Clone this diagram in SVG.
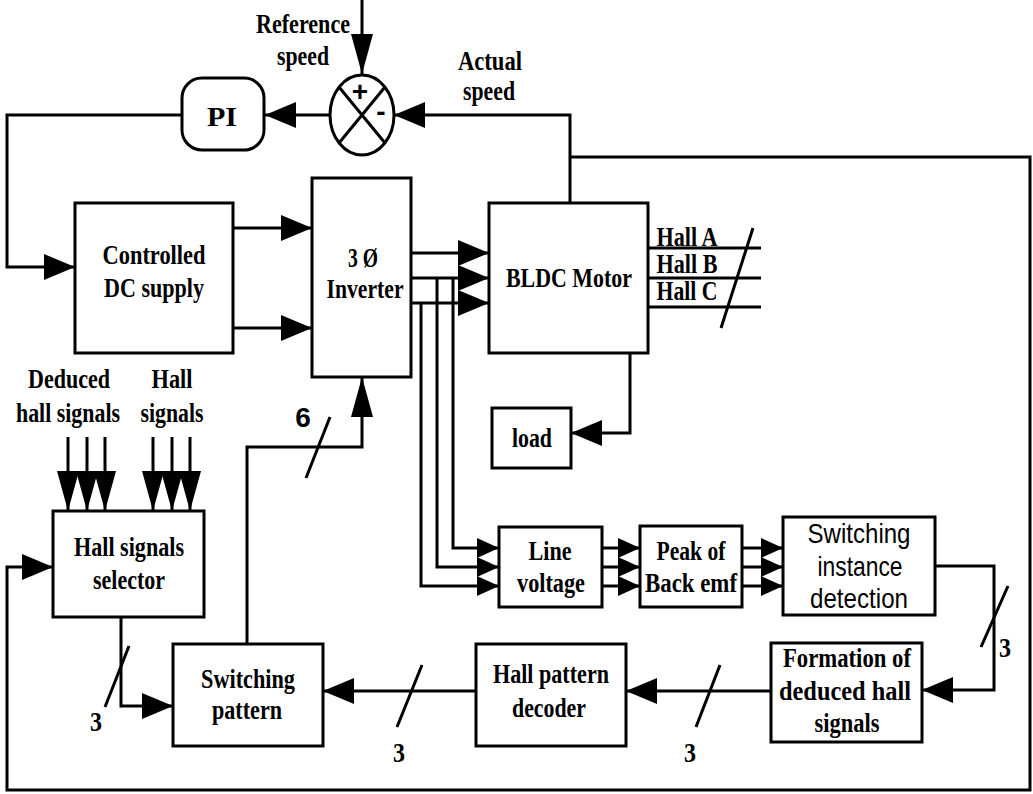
<svg xmlns="http://www.w3.org/2000/svg" width="1033" height="794" viewBox="0 0 1033 794">
<style>
.b{fill:#fff;stroke:#000;stroke-width:3}
.w{fill:none;stroke:#000;stroke-width:3}
.t{font-family:"Liberation Serif",serif;font-weight:bold;font-size:28px;text-anchor:middle;fill:#000}
.s{font-family:"Liberation Sans",sans-serif;font-size:28px;text-anchor:middle;fill:#000}
</style>
<defs>
<marker id="ah" markerUnits="userSpaceOnUse" markerWidth="31" markerHeight="26" refX="31" refY="13" orient="auto"><path d="M0,0 L31,13 L0,26 Z"/></marker>
<marker id="av" markerUnits="userSpaceOnUse" markerWidth="40" markerHeight="22" refX="40" refY="11" orient="auto"><path d="M0,0 L40,11 L0,22 Z"/></marker>
<marker id="as" markerUnits="userSpaceOnUse" markerWidth="22" markerHeight="20" refX="22" refY="10" orient="auto"><path d="M0,0 L22,10 L0,20 Z"/></marker>
</defs>
<g id="connectors">
<path class="w" d="M362,0 V74" marker-end="url(#av)"/>
<path class="w" d="M330,115 H265" marker-end="url(#ah)"/>
<path class="w" d="M570,203 V115 H394" marker-end="url(#ah)"/>
<path class="w" d="M570,157 H1030 V790 H7 V567 H53" marker-end="url(#ah)"/>
<path class="w" d="M182,115 H7 V267 H75" marker-end="url(#ah)"/>
<path class="w" d="M233,228 H312" marker-end="url(#ah)"/>
<path class="w" d="M233,328 H312" marker-end="url(#ah)"/>
<path class="w" d="M411,253 H489" marker-end="url(#ah)"/>
<path class="w" d="M411,278 H489" marker-end="url(#ah)"/>
<path class="w" d="M411,303 H489" marker-end="url(#ah)"/>
<path class="w" d="M453,278 V548 H499" marker-end="url(#as)"/>
<path class="w" d="M437,278 V567 H499" marker-end="url(#as)"/>
<path class="w" d="M421,303 V586 H499" marker-end="url(#as)"/>
<path class="w" d="M602,548 H640" marker-end="url(#as)"/>
<path class="w" d="M602,567 H640" marker-end="url(#as)"/>
<path class="w" d="M602,586 H640" marker-end="url(#as)"/>
<path class="w" d="M742,548 H783" marker-end="url(#as)"/>
<path class="w" d="M742,567 H783" marker-end="url(#as)"/>
<path class="w" d="M742,586 H783" marker-end="url(#as)"/>
<path class="w" d="M648,248 H761 M648,278 H761 M648,307 H761"/>
<path class="w" d="M630,353 V433 H571" marker-end="url(#ah)"/>
<path class="w" d="M935,566 H994 V690 H922" marker-end="url(#ah)"/>
<path class="w" d="M771,691 H626" marker-end="url(#ah)"/>
<path class="w" d="M476,691 H323" marker-end="url(#ah)"/>
<path class="w" d="M121,617 V706 H173" marker-end="url(#ah)"/>
<path class="w" d="M247,644 V447 H362 V377" marker-end="url(#av)"/>
<path class="w" d="M68,437 V511" marker-end="url(#av)"/>
<path class="w" d="M87,437 V511" marker-end="url(#av)"/>
<path class="w" d="M105,437 V511" marker-end="url(#av)"/>
<path class="w" d="M153,437 V511" marker-end="url(#av)"/>
<path class="w" d="M172,437 V511" marker-end="url(#av)"/>
<path class="w" d="M190,437 V511" marker-end="url(#av)"/>
<path class="w" d="M753,228 L721,328 M330,417 L306,478 M129,646 L105,707 M422,665 L397,727 M720,665 L696,727 M1008,586 L981,647"/>
<text class="t" x="303" y="33" font-size="27" textLength="94" lengthAdjust="spacingAndGlyphs">Reference</text>
<text class="t" x="303" y="65" font-size="27" textLength="52" lengthAdjust="spacingAndGlyphs">speed</text>
<text class="t" x="490" y="70" font-size="27" textLength="64" lengthAdjust="spacingAndGlyphs">Actual</text>
<text class="t" x="489" y="100" font-size="27" textLength="52" lengthAdjust="spacingAndGlyphs">speed</text>
<text class="t" x="687" y="246" font-size="22" textLength="61" lengthAdjust="spacingAndGlyphs">Hall A</text>
<text class="t" x="687" y="273" font-size="22" textLength="61" lengthAdjust="spacingAndGlyphs">Hall B</text>
<text class="t" x="687" y="300" font-size="22" textLength="61" lengthAdjust="spacingAndGlyphs">Hall C</text>
<text class="t" x="69" y="388" font-size="24" textLength="82" lengthAdjust="spacingAndGlyphs">Deduced</text>
<text class="t" x="68" y="422" font-size="24" textLength="104" lengthAdjust="spacingAndGlyphs">hall signals</text>
<text class="t" x="172" y="388" font-size="24" textLength="41" lengthAdjust="spacingAndGlyphs">Hall</text>
<text class="t" x="172" y="422" font-size="24" textLength="63" lengthAdjust="spacingAndGlyphs">signals</text>
<text class="s" x="303" y="427" font-size="21" font-weight="bold">6</text>
<text class="t" x="96" y="731" font-size="28" textLength="12" lengthAdjust="spacingAndGlyphs">3</text>
<text class="t" x="399" y="762" font-size="28" textLength="12" lengthAdjust="spacingAndGlyphs">3</text>
<text class="t" x="690" y="762" font-size="28" textLength="12" lengthAdjust="spacingAndGlyphs">3</text>
<text class="t" x="1005" y="657" font-size="28" textLength="12" lengthAdjust="spacingAndGlyphs">3</text>
</g>
<g id="sum">
<ellipse class="b" cx="362" cy="115" rx="32" ry="40"/>
<path class="w" d="M339,87 L385,143 M385,87 L339,143"/>
<text class="s" x="360" y="101" font-size="26" font-weight="bold">+</text>
<text class="s" x="381" y="121" font-size="26" font-weight="bold">-</text>
</g>
<g id="pi">
<rect class="b" x="182" y="78" width="82" height="72" rx="20" ry="20"/>
<text class="t" x="222" y="126" font-size="44" textLength="30" lengthAdjust="spacingAndGlyphs">PI</text>
</g>
<g id="dc-supply">
<rect class="b" x="75" y="203" width="158" height="150"/>
<text class="t" x="154" y="264" font-size="30" textLength="103" lengthAdjust="spacingAndGlyphs">Controlled</text>
<text class="t" x="154" y="297" font-size="30" textLength="100" lengthAdjust="spacingAndGlyphs">DC supply</text>
</g>
<g id="inverter">
<rect class="b" x="312" y="178" width="99" height="199"/>
<text class="t" x="363" y="267" font-size="29" textLength="30" lengthAdjust="spacingAndGlyphs">3 Ø</text>
<text class="t" x="365" y="298" font-size="29" textLength="77" lengthAdjust="spacingAndGlyphs">Inverter</text>
</g>
<g id="motor">
<rect class="b" x="489" y="203" width="159" height="150"/>
<text class="t" x="569" y="287" font-size="30" textLength="126" lengthAdjust="spacingAndGlyphs">BLDC Motor</text>
</g>
<g id="load">
<rect class="b" x="492" y="408" width="79" height="60"/>
<text class="t" x="532" y="447" font-size="29" textLength="40" lengthAdjust="spacingAndGlyphs">load</text>
</g>
<g id="selector">
<rect class="b" x="53" y="511" width="151" height="106"/>
<text class="t" x="129" y="556" textLength="110" lengthAdjust="spacingAndGlyphs">Hall signals</text>
<text class="t" x="129" y="589" textLength="72" lengthAdjust="spacingAndGlyphs">selector</text>
</g>
<g id="line-voltage">
<rect class="b" x="499" y="527" width="103" height="80"/>
<text class="t" x="550" y="560" font-size="29" textLength="43" lengthAdjust="spacingAndGlyphs">Line</text>
<text class="t" x="551" y="592" font-size="29" textLength="68" lengthAdjust="spacingAndGlyphs">voltage</text>
</g>
<g id="peak">
<rect class="b" x="640" y="526" width="102" height="81"/>
<text class="t" x="691" y="560" textLength="69" lengthAdjust="spacingAndGlyphs">Peak of</text>
<text class="t" x="691" y="592" textLength="92" lengthAdjust="spacingAndGlyphs">Back emf</text>
</g>
<g id="switching-instance">
<rect class="b" x="783" y="517" width="152" height="98"/>
<text class="s" x="859" y="543" textLength="103" lengthAdjust="spacingAndGlyphs">Switching</text>
<text class="s" x="860" y="576" textLength="85" lengthAdjust="spacingAndGlyphs">instance</text>
<text class="s" x="859" y="608" textLength="98" lengthAdjust="spacingAndGlyphs">detection</text>
</g>
<g id="formation">
<rect class="b" x="771" y="643" width="151" height="99"/>
<text class="t" x="847" y="667" font-size="26" textLength="128" lengthAdjust="spacingAndGlyphs">Formation of</text>
<text class="t" x="845" y="700" font-size="26" textLength="132" lengthAdjust="spacingAndGlyphs">deduced hall</text>
<text class="t" x="847" y="732" font-size="26" textLength="65" lengthAdjust="spacingAndGlyphs">signals</text>
</g>
<g id="decoder">
<rect class="b" x="476" y="644" width="150" height="102"/>
<text class="t" x="551" y="683" font-size="27" textLength="116" lengthAdjust="spacingAndGlyphs">Hall pattern</text>
<text class="t" x="549" y="717" font-size="27" textLength="74" lengthAdjust="spacingAndGlyphs">decoder</text>
</g>
<g id="switching-pattern">
<rect class="b" x="173" y="644" width="150" height="102"/>
<text class="t" x="248" y="688" font-size="27" textLength="94" lengthAdjust="spacingAndGlyphs">Switching</text>
<text class="t" x="247" y="719" font-size="27" textLength="70" lengthAdjust="spacingAndGlyphs">pattern</text>
</g>
</svg>
